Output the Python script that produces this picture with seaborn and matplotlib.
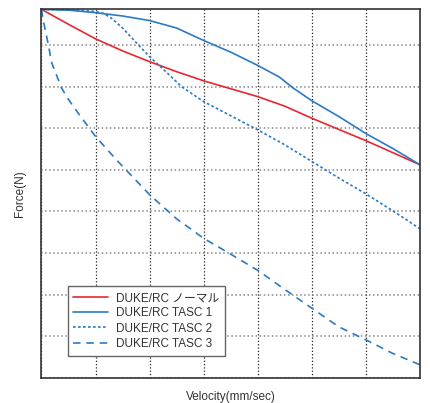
import numpy as np
import pandas as pd
import seaborn as sns
import matplotlib.pyplot as plt

# series (velocity in grid units, force in grid units)
normal_x = [0, 0.5, 1, 1.5, 2, 2.5, 3, 3.5, 4, 4.5, 5, 5.5, 6, 6.5, 7]
normal_y = [8.86, 8.5, 8.15, 7.86, 7.6, 7.36, 7.14, 6.95, 6.76, 6.53, 6.24, 5.97, 5.70, 5.41, 5.12]

tasc1_x = [0, 0.5, 1, 1.5, 2, 2.5, 3, 3.5, 4, 4.4, 4.65, 5, 5.5, 6, 6.5, 7]
tasc1_y = [8.86, 8.84, 8.78, 8.70, 8.59, 8.41, 8.11, 7.83, 7.51, 7.23, 6.97, 6.66, 6.28, 5.87, 5.51, 5.12]

tasc2_x = [0, 0.5, 1, 1.15, 1.3, 1.5, 1.7, 2, 2.3, 2.6, 3, 3.5, 4, 4.5, 5, 5.5, 6, 6.5, 7]
tasc2_y = [8.86, 8.85, 8.81, 8.76, 8.64, 8.41, 8.13, 7.72, 7.36, 6.99, 6.64, 6.30, 5.96, 5.60, 5.20, 4.80, 4.42, 4.01, 3.58]

tasc3_x = [0, 0.03, 0.12, 0.19, 0.37, 0.5, 0.68, 1, 1.4, 2, 2.5, 3, 3.5, 4, 4.5, 5, 5.5, 6, 6.5, 7]
tasc3_y = [8.86, 8.61, 8.05, 7.57, 6.97, 6.69, 6.36, 5.80, 5.22, 4.40, 3.82, 3.35, 2.97, 2.58, 2.12, 1.67, 1.22, 0.91, 0.58, 0.31]

labels = ['DUKE/RC ノーマル', 'DUKE/RC TASC 1', 'DUKE/RC TASC 2', 'DUKE/RC TASC 3']

# set colors
red = '#e8262d'
blue = '#2a7ac4'

sns.set_style('white')
plt.rcParams['font.family'] = ['Liberation Sans', 'Noto Sans CJK JP', 'DejaVu Sans']

# long form table
df = pd.concat([
    pd.DataFrame({'v': normal_x, 'f': normal_y, 'series': labels[0]}),
    pd.DataFrame({'v': tasc1_x, 'f': tasc1_y, 'series': labels[1]}),
    pd.DataFrame({'v': tasc2_x, 'f': tasc2_y, 'series': labels[2]}),
    pd.DataFrame({'v': tasc3_x, 'f': tasc3_y, 'series': labels[3]}),
])

fig = plt.figure(figsize=(4.3, 4.03), dpi=100)
ax = fig.add_axes([0.0965, 0.0628, 0.8805, 0.914])

palette = {labels[0]: red, labels[1]: blue, labels[2]: blue, labels[3]: blue}
dashes = {labels[0]: '', labels[1]: '', labels[2]: (1.6, 1.4), labels[3]: (4.5, 3.5)}
sns.lineplot(data=df, x='v', y='f', hue='series', style='series', palette=palette,
             dashes=dashes, estimator=None, sort=False, linewidth=1.2, ax=ax)

ax.set_xlim(0, 7)
ax.set_ylim(0, 8.86)
ax.set_xticks(np.arange(0, 8))
ax.set_yticks(np.arange(0, 9))
ax.set_xticklabels([])
ax.set_yticklabels([])
ax.tick_params(length=0)
ax.xaxis.grid(True, ls=':', color='#222222', lw=0.9)
ax.yaxis.grid(True, ls=':', color='#888888', lw=1.1)
for s in ax.spines.values():
    s.set_color('#333333')
    s.set_linewidth(1.2)

ax.set_xlabel('Velocity(mm/sec)', fontsize=8.5, color='#333333', labelpad=6)
ax.set_ylabel('Force(N)', fontsize=8.5, color='#333333', labelpad=8)

leg = ax.legend(loc='lower left', bbox_to_anchor=(0.0687, 0.0597), borderaxespad=0,
                fontsize=8.5, handlelength=2.9, labelspacing=0.27, borderpad=0.5,
                handletextpad=0.7, fancybox=False, framealpha=1, edgecolor='#666666', title=None)
leg.get_frame().set_linewidth(1.0)
for t in leg.get_texts():
    t.set_color('#333333')

plt.savefig('out.png', dpi=100)
